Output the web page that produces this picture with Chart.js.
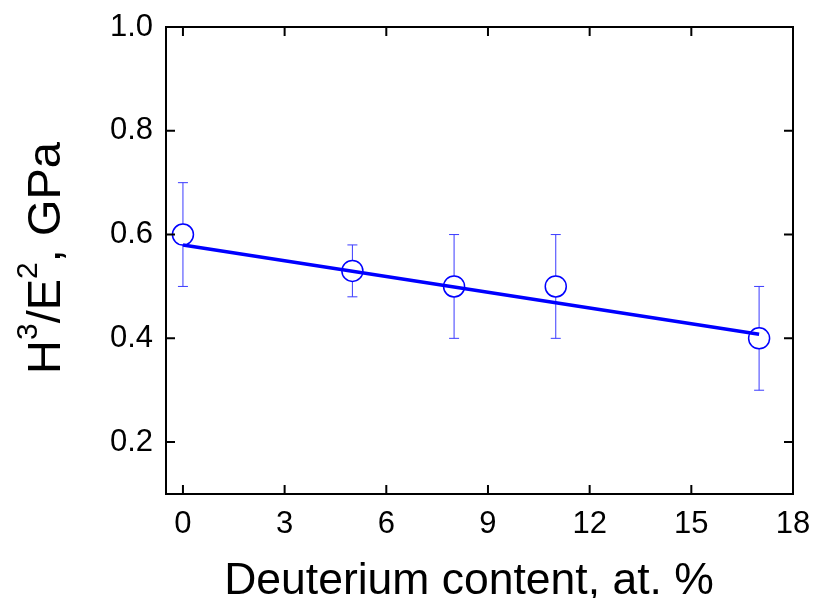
<!DOCTYPE html>
<html>
<head>
<meta charset="utf-8">
<script src="https://cdn.jsdelivr.net/npm/chart.js@4/dist/chart.umd.min.js"></script>
<style>
  html, body { margin: 0; padding: 0; background: #fff; }
  #wrap { width: 815px; height: 598px; }
</style>
</head>
<body>
<div id="wrap"><canvas id="chart"></canvas></div>
<script>
// measured points
const deuterium = [0, 5, 8, 11, 17];
const ratio = [0.60, 0.53, 0.50, 0.50, 0.40];
const errors = [0.10, 0.05, 0.10, 0.10, 0.10];

// linear fit ends
const fitX = [0, 17];
const fitY = [0.580, 0.408];

// axis ticks
const xTicks = [0, 3, 6, 9, 12, 15, 18];
const yTicks = [0.2, 0.4, 0.6, 0.8, 1.0];

const xTitle = "Deuterium content, at. %";

const FONT = "'Liberation Sans', Arial, Helvetica, sans-serif";

/* error bars, under the markers */
const errorBars = {
    id: "errorBars",
    beforeDatasetsDraw(chart) {
        const { ctx, scales: { x, y } } = chart;
        ctx.save();
        ctx.strokeStyle = "#3b3bff";
        ctx.lineWidth = 1;
        deuterium.forEach((d, i) => {
            const px = x.getPixelForValue(d);
            const top = y.getPixelForValue(ratio[i] + errors[i]);
            const bot = y.getPixelForValue(ratio[i] - errors[i]);
            ctx.beginPath();
            ctx.moveTo(px, top); ctx.lineTo(px, bot);
            ctx.moveTo(px - 5, top); ctx.lineTo(px + 5, top);
            ctx.moveTo(px - 5, bot); ctx.lineTo(px + 5, bot);
            ctx.stroke();
        });
        ctx.restore();
    }
};

/* box frame with inward ticks on all four sides + axis titles */
const frame = {
    id: "frame",
    afterDraw(chart) {
        const { ctx, chartArea: a, scales: { x, y } } = chart;
        const len = 9;
        ctx.save();
        ctx.strokeStyle = "#000";
        ctx.lineWidth = 2;
        ctx.strokeRect(a.left, a.top, a.right - a.left, a.bottom - a.top);
        ctx.beginPath();
        xTicks.forEach(v => {
            const px = x.getPixelForValue(v);
            ctx.moveTo(px, a.bottom); ctx.lineTo(px, a.bottom - len);
            ctx.moveTo(px, a.top); ctx.lineTo(px, a.top + len);
        });
        yTicks.forEach(v => {
            const py = y.getPixelForValue(v);
            ctx.moveTo(a.left, py); ctx.lineTo(a.left + len, py);
            ctx.moveTo(a.right, py); ctx.lineTo(a.right - len, py);
        });
        ctx.stroke();

        ctx.fillStyle = "#000";
        ctx.textBaseline = "alphabetic";

        // x title
        ctx.font = "44.5px " + FONT;
        ctx.textAlign = "center";
        ctx.fillText(xTitle, 469, 594);
        ctx.textAlign = "left";

        // y title: H^3/E^2, GPa
        const parts = [["H", false], ["3", true], ["/E", false], ["2", true], [", GPa", false]];
        const big = "47px " + FONT, small = "30px " + FONT;
        let total = 0;
        parts.forEach(([t, sup]) => {
            ctx.font = sup ? small : big;
            total += ctx.measureText(t).width;
        });
        ctx.translate(60, 258);
        ctx.rotate(-Math.PI / 2);
        let cx = -total / 2;
        parts.forEach(([t, sup]) => {
            ctx.font = sup ? small : big;
            ctx.fillText(t, cx, sup ? -23 : 0);
            cx += ctx.measureText(t).width;
        });
        ctx.restore();
    }
};

new Chart(document.getElementById("chart"), {
    type: "scatter",
    data: {
        datasets: [
            {
                type: "line",
                data: fitX.map((v, i) => ({ x: v, y: fitY[i] })),
                borderColor: "#0000ff",
                borderWidth: 3.5,
                pointRadius: 0,
                fill: false,
                order: 0
            },
            {
                data: deuterium.map((v, i) => ({ x: v, y: ratio[i] })),
                borderColor: "#0000ff",
                backgroundColor: "#ffffff",
                borderWidth: 1.5,
                pointRadius: 10.5,
                pointHoverRadius: 10.5,
                order: 1
            }
        ]
    },
    options: {
        responsive: true,
        maintainAspectRatio: false,
        animation: false,
        layout: { padding: { left: 70, right: 22, top: 27, bottom: 0 } },
        plugins: {
            legend: { display: false },
            tooltip: { enabled: false }
        },
        scales: {
            x: {
                type: "linear",
                min: -0.5,
                max: 18,
                afterBuildTicks: s => { s.ticks = xTicks.map(v => ({ value: v })); },
                afterFit: s => { s.height = 104; s.paddingLeft = 0; s.paddingRight = 0; },
                grid: { display: false, drawTicks: false },
                border: { display: false },
                ticks: {
                    color: "#000",
                    padding: 12,
                    font: { family: FONT, size: 31 }
                }
            },
            y: {
                type: "linear",
                min: 0.1,
                max: 1.0,
                afterBuildTicks: s => { s.ticks = yTicks.map(v => ({ value: v })); },
                afterFit: s => { s.width = 96; s.paddingTop = 0; s.paddingBottom = 0; },
                grid: { display: false, drawTicks: false },
                border: { display: false },
                ticks: {
                    color: "#000",
                    padding: 13,
                    font: { family: FONT, size: 31 },
                    callback: v => v.toFixed(1)
                }
            }
        }
    },
    plugins: [errorBars, frame]
});
</script>
</body>
</html>
